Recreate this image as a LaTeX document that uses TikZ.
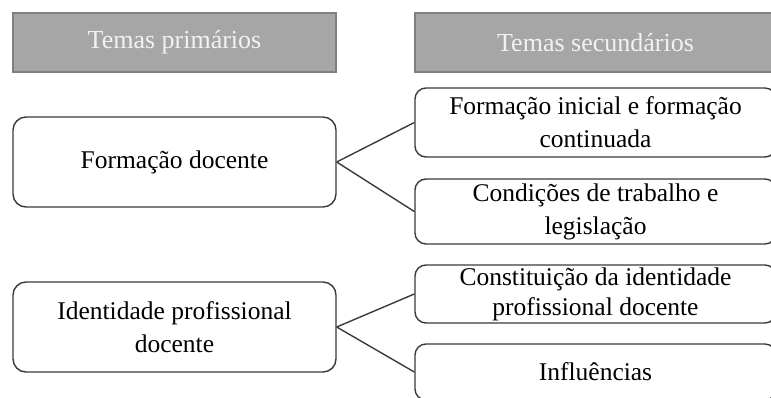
\documentclass[tikz,border=0pt]{standalone}
\usepackage{fontspec}
\setmainfont{Liberation Serif}
\definecolor{cabfundo}{HTML}{A6A6A6}
\definecolor{cabborda}{HTML}{7F7F7F}
\definecolor{linha}{HTML}{3A3A3A}
\tikzset{
  cabecalho/.style={draw=cabborda,line width=1.2pt,fill=cabfundo,text=white!95!black,
    inner sep=0pt,minimum height=59pt,font=\fontsize{26}{33}\selectfont},
  tema/.style={draw=linha,line width=1.4pt,rounded corners=13pt,inner sep=0pt,
    minimum width=323pt,minimum height=90pt,align=center,font=\fontsize{25.5}{33}\selectfont},
  subtema/.style={draw=linha,line width=1.4pt,rounded corners=11pt,inner sep=0pt,
    minimum width=361pt,align=center,font=\fontsize{25.5}{33}\selectfont}
}
\begin{document}
\begin{tikzpicture}[x=1pt,y=-1pt]
        \useasboundingbox (0,0) rectangle (771,397);
        \clip (0,0) rectangle (771,397);
        \node[cabecalho,minimum width=323pt] (cab1) at (174.5,42.5){Temas primários};
        \node[cabecalho,minimum width=361pt] (cab2) at (595.5,42.5){Temas secundários};

        \node[tema] (FD) at (174.5,162){Formação docente};
        \node[tema] (IP) at (174.5,327){Identidade profissional\\docente};

        \node[subtema,minimum height=69pt] (FI) at (595.5,122.5){Formação inicial e formação\\continuada};
        \node[subtema,minimum height=65pt] (CT) at (595.5,211.5){Condições de trabalho e\\legislação};
        \node[subtema,minimum height=58pt,font=\fontsize{25.5}{30}\selectfont] (CI) at (595.5,294){Constituição da identidade\\profissional docente};
        \node[subtema,minimum height=56pt] (IN) at (595.5,372){Influências};

        \path [draw,linha,line width=1.4pt] (FD.east) to (FI.west);
        \path [draw,linha,line width=1.4pt] (FD.east) to (CT.west);
        \path [draw,linha,line width=1.4pt] (IP.east) to (CI.west);
        \path [draw,linha,line width=1.4pt] (IP.east) to (IN.west);
    \end{tikzpicture}
\end{document}
